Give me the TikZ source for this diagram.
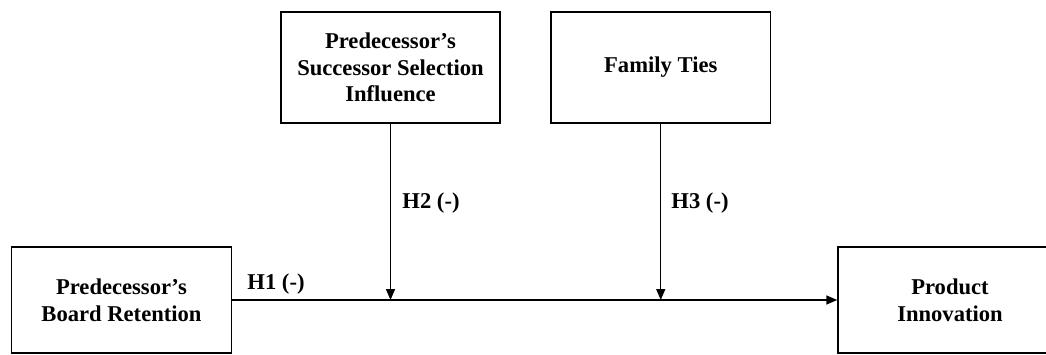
\documentclass[tikz,border=0pt]{standalone}
\usepackage{fontspec}
\setmainfont{Liberation Serif}
\usetikzlibrary{arrows.meta}
\begin{document}
\begin{tikzpicture}[x=1pt,y=-1pt,
  box/.style={draw, line width=1.4pt, align=center, inner sep=0pt,
    font=\bfseries\fontsize{22.6}{26.6}\selectfont},
  lbl/.style={inner sep=0pt, font=\bfseries\fontsize{22.6}{26.6}\selectfont},
  arr/.style={line width=1.4pt, -{Triangle[length=11pt,width=9pt]}}]
\clip (0,0) rectangle (1046,355);
\node[box, minimum width=220pt, minimum height=106pt] (pbr) at (121.5,300) {Predecessor’s\\Board Retention};
\node[box, minimum width=219pt, minimum height=111pt] (pssi) at (390.5,67.5) {Predecessor’s\\Successor Selection\\Influence};
\node[box, minimum width=219.5pt, minimum height=111pt] (ft) at (660.75,67.5) {Family Ties};
\node[box, minimum width=224pt, minimum height=106pt] (pi) at (950,300) {Product\\Innovation};
\coordinate (m2) at (pssi.south |- pbr.east);
\coordinate (m3) at (ft.south |- pbr.east);
\draw[arr] (pbr.east) -- (pi.west);
\draw[arr] (pssi.south) -- (m2);
\draw[arr] (ft.south) -- (m3);
\node[lbl] (h1) at (276,284) {H1 (-)};
\node[lbl] (h2) at (431,203) {H2 (-)};
\node[lbl] (h3) at (700,203) {H3 (-)};
\end{tikzpicture}
\end{document}
